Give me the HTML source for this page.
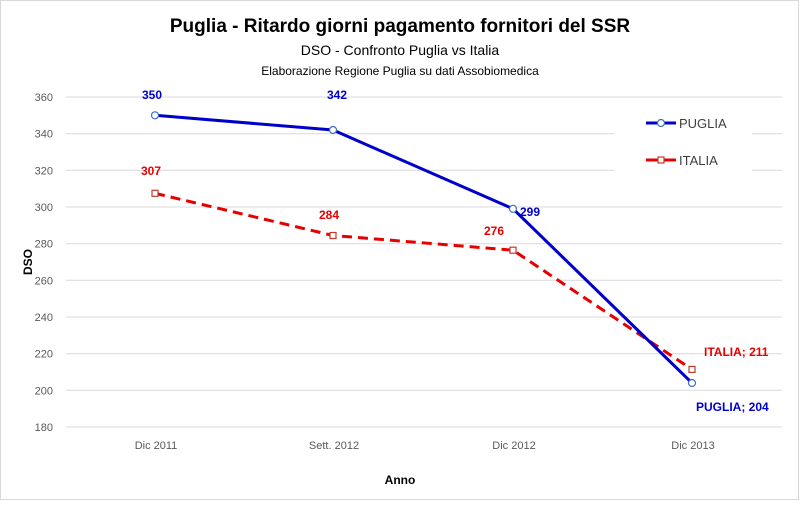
<!DOCTYPE html>
<html><head><meta charset="utf-8"><style>
body{margin:0;background:#fff}
text{font-family:"Liberation Sans Narrow","Liberation Sans",sans-serif}
</style></head><body>
<svg width="800" height="501" xmlns="http://www.w3.org/2000/svg">
<rect x="0.5" y="0.5" width="798" height="499" fill="#fff" stroke="#d9d9d9"/>
<text x="400" y="32" text-anchor="middle" font-size="19" font-weight="bold" fill="#000">Puglia - Ritardo giorni pagamento fornitori del SSR</text>
<text x="400" y="55" text-anchor="middle" font-size="14" fill="#000">DSO - Confronto Puglia vs Italia</text>
<text x="400" y="75" text-anchor="middle" font-size="12" fill="#000">Elaborazione Regione Puglia su dati  Assobiomedica</text>
<g stroke="#d9d9d9" stroke-width="1">
<line x1="66" x2="782" y1="97" y2="97"/>
<line x1="66" x2="782" y1="133.7" y2="133.7"/>
<line x1="66" x2="782" y1="170.3" y2="170.3"/>
<line x1="66" x2="782" y1="207" y2="207"/>
<line x1="66" x2="782" y1="243.7" y2="243.7"/>
<line x1="66" x2="782" y1="280.3" y2="280.3"/>
<line x1="66" x2="782" y1="317" y2="317"/>
<line x1="66" x2="782" y1="353.7" y2="353.7"/>
<line x1="66" x2="782" y1="390.3" y2="390.3"/>
<line x1="66" x2="782" y1="427" y2="427"/>
</g>
<rect x="614" y="105" width="138" height="75" fill="#fff"/>
<g font-size="11" fill="#595959" text-anchor="end">
<text x="53" y="101">360</text><text x="53" y="137.7">340</text><text x="53" y="174.3">320</text>
<text x="53" y="211">300</text><text x="53" y="247.7">280</text><text x="53" y="284.3">260</text>
<text x="53" y="321">240</text><text x="53" y="357.7">220</text><text x="53" y="394.3">200</text><text x="53" y="431">180</text>
</g>
<g font-size="11" fill="#595959" text-anchor="middle">
<text x="156" y="449">Dic 2011</text><text x="334" y="449">Sett. 2012</text>
<text x="514" y="449">Dic 2012</text><text x="693" y="449">Dic 2013</text>
</g>
<text x="400" y="484" text-anchor="middle" font-size="12" font-weight="bold">Anno</text>
<text x="32" y="262" text-anchor="middle" font-size="12" font-weight="bold" transform="rotate(-90 32 262)">DSO</text>
<polyline points="155,193.3 333,235.5 513,250.2 692,369.4" fill="none" stroke="#e60000" stroke-width="3" stroke-dasharray="10,6"/>
<polyline points="155,115.3 333,130 513,208.8 692,383" fill="none" stroke="#0000cc" stroke-width="3"/>
<g fill="#fff" stroke="#c0392b" stroke-width="1.2">
<rect x="152" y="190.3" width="6" height="6"/><rect x="330" y="232.5" width="6" height="6"/>
<rect x="510" y="247.2" width="6" height="6"/><rect x="689" y="366.4" width="6" height="6"/>
</g>
<g fill="#fff" stroke="#3a6fc4" stroke-width="1.2">
<circle cx="155" cy="115.3" r="3.5"/><circle cx="333" cy="130" r="3.5"/>
<circle cx="513" cy="208.8" r="3.5"/><circle cx="692" cy="383" r="3.5"/>
</g>
<g font-size="12" font-weight="bold" fill="#0000cc">
<text x="152" y="99" text-anchor="middle">350</text><text x="337" y="99" text-anchor="middle">342</text>
<text x="520" y="216">299</text><text x="696" y="411">PUGLIA; 204</text>
</g>
<g font-size="12" font-weight="bold" fill="#e60000">
<text x="151" y="175" text-anchor="middle">307</text><text x="329" y="219" text-anchor="middle">284</text>
<text x="494" y="235" text-anchor="middle">276</text><text x="704" y="356">ITALIA; 211</text>
</g>
<line x1="646" x2="676" y1="123" y2="123" stroke="#0000cc" stroke-width="3"/>
<circle cx="661" cy="123" r="3.5" fill="#fff" stroke="#3a6fc4" stroke-width="1.2"/>
<text x="679" y="128" font-size="13" fill="#404040">PUGLIA</text>
<line x1="646" x2="676" y1="160" y2="160" stroke="#e60000" stroke-width="3"/>
<rect x="658" y="157" width="6" height="6" fill="#fff" stroke="#c0392b" stroke-width="1.2"/>
<text x="679" y="165" font-size="13" fill="#404040">ITALIA</text>
</svg>
</body></html>
